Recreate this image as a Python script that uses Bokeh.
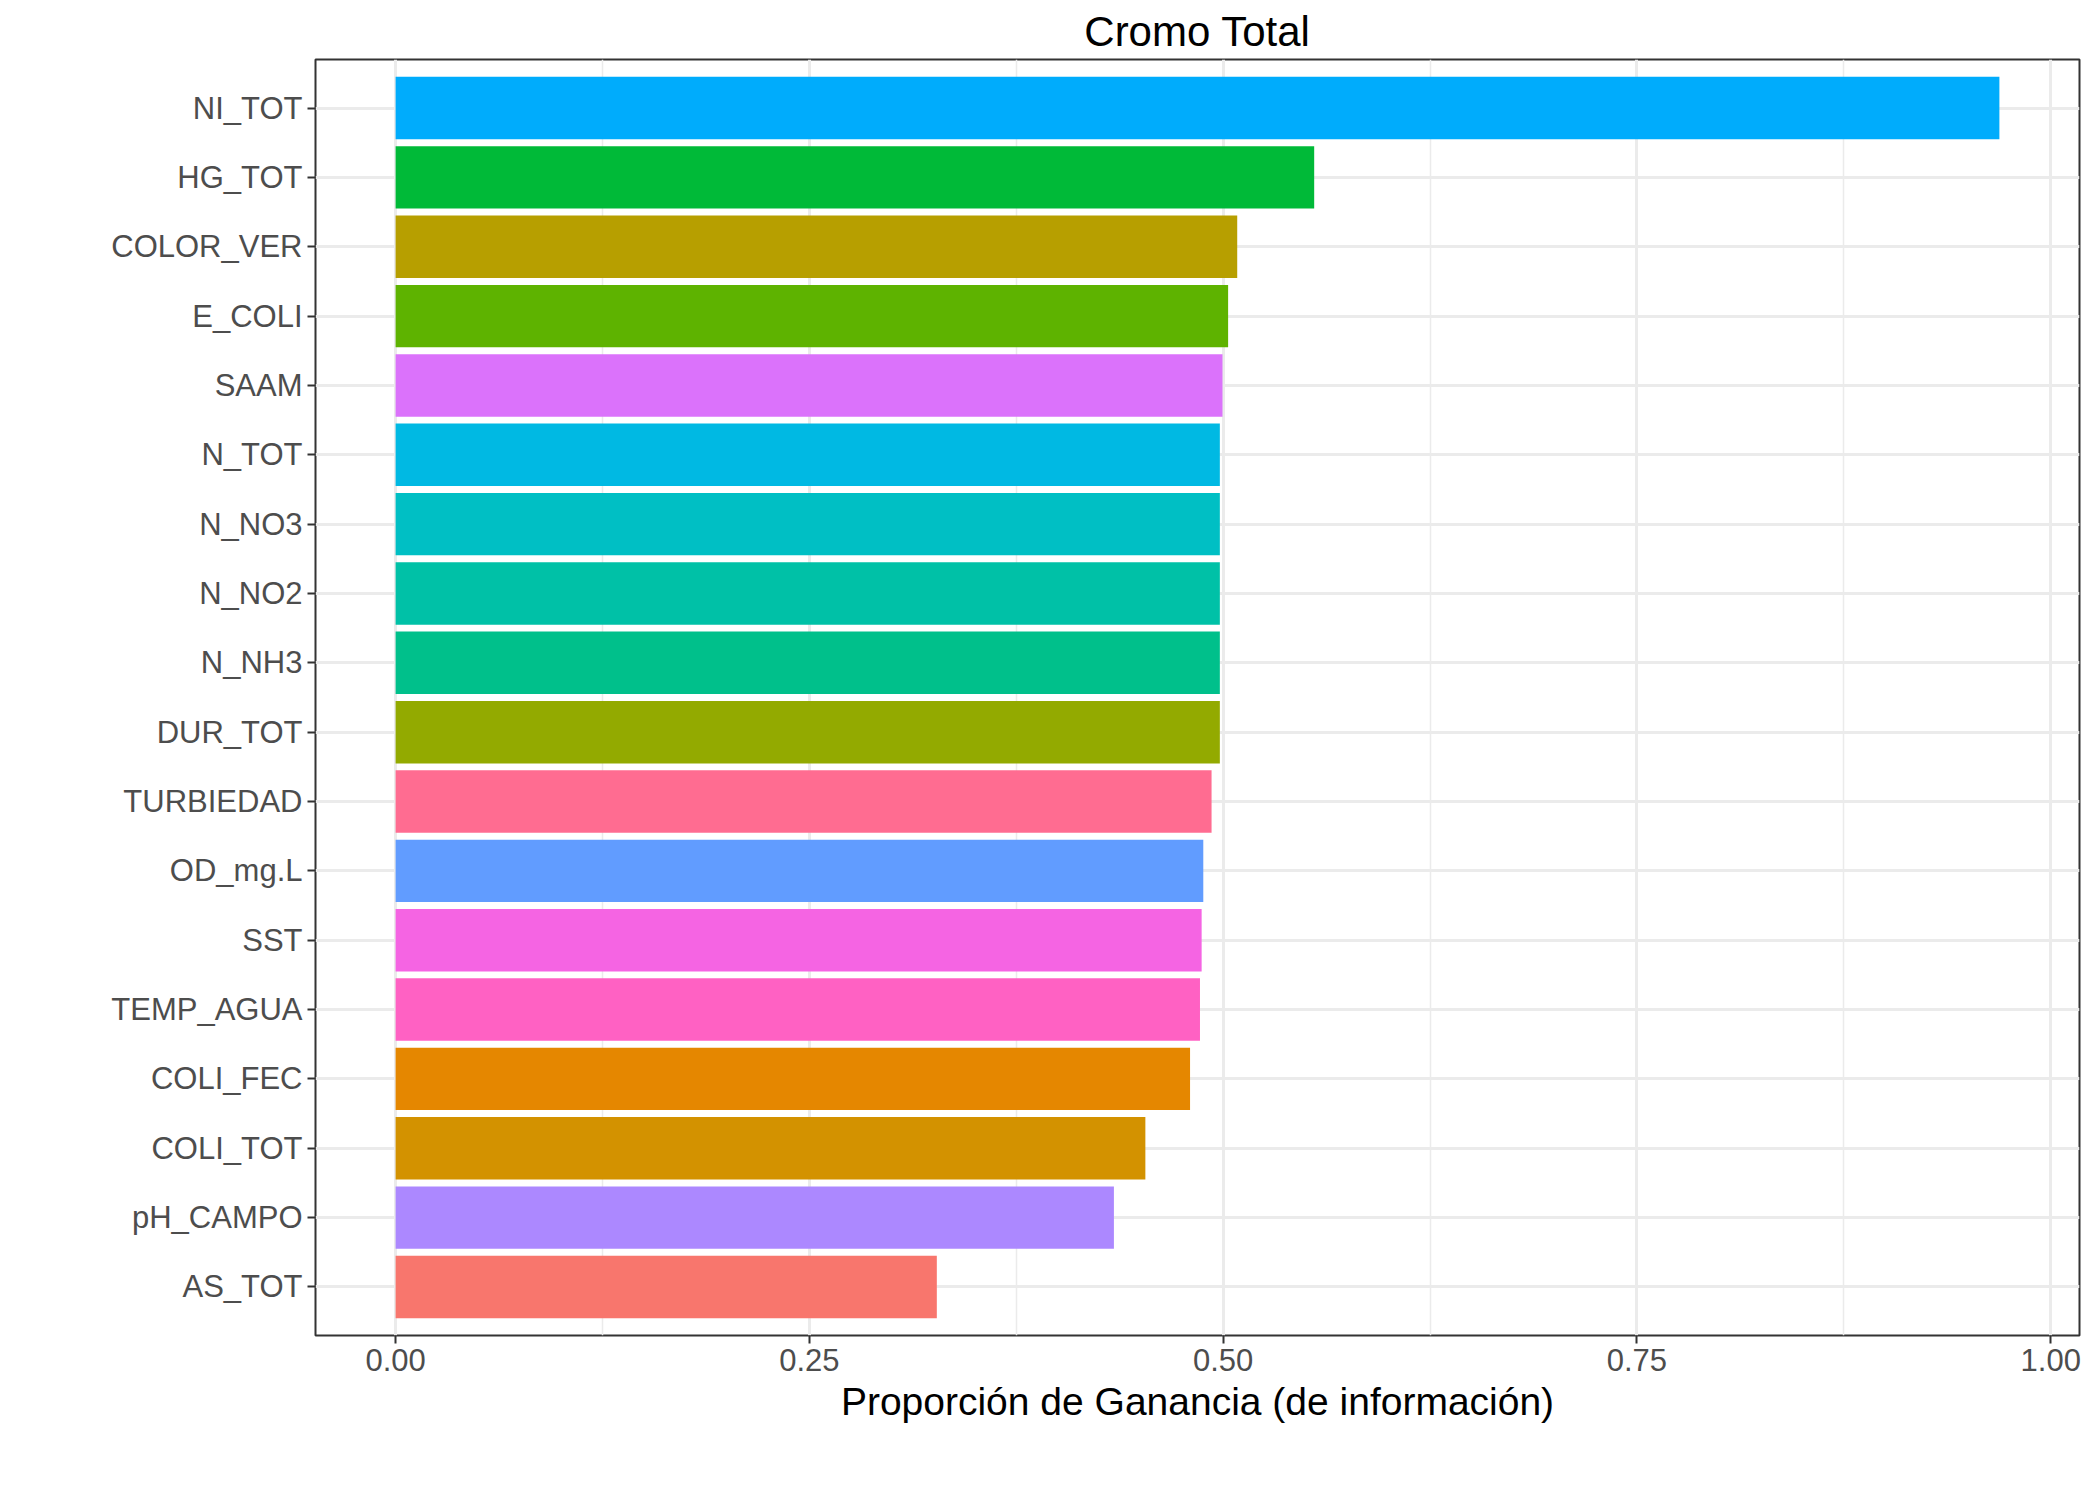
from bokeh.plotting import figure
from bokeh.models import ColumnDataSource, FactorRange, FixedTicker, Range1d
from bokeh.embed import file_html
from bokeh.resources import INLINE

# bottom to top
variables = ["AS_TOT", "pH_CAMPO", "COLI_TOT", "COLI_FEC", "TEMP_AGUA", "SST",
             "OD_mg.L", "TURBIEDAD", "DUR_TOT", "N_NH3", "N_NO2", "N_NO3",
             "N_TOT", "SAAM", "E_COLI", "COLOR_VER", "HG_TOT", "NI_TOT"]
gain = [0.327, 0.434, 0.453, 0.480, 0.486, 0.487,
        0.488, 0.493, 0.498, 0.498, 0.498, 0.498,
        0.498, 0.4996, 0.503, 0.5085, 0.555, 0.969]
colors = ["#F8766D", "#AC88FF", "#D39200", "#E58700", "#FF61C3", "#F564E3",
          "#619CFF", "#FF6C91", "#93AA00", "#00C08B", "#00C1A7", "#00BFC4",
          "#00B9E3", "#DB72FB", "#5EB300", "#B79F00", "#00BA38", "#00ACFC"]

src = ColumnDataSource(dict(var=variables, gain=gain, color=colors))

yr = FactorRange(factors=variables, range_padding=0.2, range_padding_units="absolute")
p = figure(y_range=yr, x_range=Range1d(-0.0484, 1.0174),
           frame_width=1764, frame_height=1276,
           output_backend="svg", toolbar_location=None,
           min_border_left=315, min_border_right=8, min_border_bottom=10,
           min_border_top=10)

p.hbar(y="var", right="gain", left=0, height=0.9, fill_color="color",
       line_color=None, source=src)

p.title.text = "Cromo Total"
p.title.align = "center"
p.title.text_font = "Liberation Sans"
p.title.text_font_style = "normal"
p.title.text_font_size = "42px"
p.title.text_color = "black"

p.xaxis.ticker = FixedTicker(ticks=[0, 0.25, 0.5, 0.75, 1.0],
                             minor_ticks=[0.125, 0.375, 0.625, 0.875])
p.xaxis.major_label_overrides = {0: "0.00", 0.25: "0.25", 0.5: "0.50",
                                 0.75: "0.75", 1.0: "1.00"}
p.xaxis.axis_label = "Proporción de Ganancia (de información)"
p.xaxis.axis_label_text_font_style = "normal"
p.xaxis.axis_label_text_font_size = "39px"
p.xaxis.axis_label_text_font = "Liberation Sans"
p.xaxis.axis_label_text_color = "black"
p.xaxis.axis_label_standoff = 6

for ax in (p.xaxis, p.yaxis):
    ax.major_label_text_font = "Liberation Sans"
    ax.major_label_text_font_size = "31px"
    ax.major_label_text_color = "#4D4D4D"
    ax.axis_line_color = None
    ax.major_tick_line_color = "#333333"
    ax.major_tick_line_width = 2
    ax.major_tick_out = 8
    ax.major_tick_in = 0
    ax.minor_tick_line_color = None

p.xgrid.grid_line_color = "#EBEBEB"
p.xgrid.grid_line_width = 3
p.xgrid.minor_grid_line_color = "#EBEBEB"
p.xgrid.minor_grid_line_width = 1.5
p.ygrid.grid_line_color = "#EBEBEB"
p.ygrid.grid_line_width = 3
p.outline_line_color = "#333333"
p.outline_line_width = 2

open("out.html", "w").write(file_html(p, INLINE))
